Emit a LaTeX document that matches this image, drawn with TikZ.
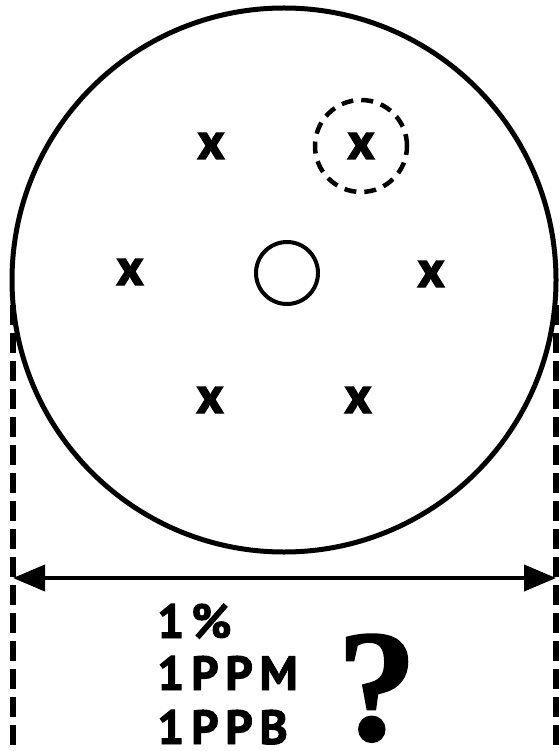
\documentclass[tikz,border=0pt]{standalone}
\usepackage{fontspec}
\setsansfont{PT Sans}
\newfontfamily\qmarkfont{Liberation Serif}
\usetikzlibrary{arrows.meta,positioning}
\tikzset{
  xmark/.style={font=\sffamily\bfseries\fontsize{52}{52}\selectfont\addfontfeature{FakeBold=2.5}, inner sep=0pt},
  conclabel/.style={font=\sffamily\bfseries\fontsize{48}{48}\selectfont\addfontfeature{LetterSpace=14,FakeBold=2}, inner sep=0pt, anchor=base west},
  sideline/.style={line width=6pt, dash pattern=on 20pt off 8pt}
}

\begin{document}
\begin{tikzpicture}[x=1pt, y=-1pt, >={Triangle[length=32pt,width=26pt]}]
  \useasboundingbox (0,0) rectangle (559,751);
  % sample disc with centre hole
  \node[circle, draw, line width=5pt, inner sep=0pt, minimum size=544pt] (disc) at (284,280) {};
  \node[circle, draw, line width=4pt, inner sep=0pt, minimum size=62pt] (hole) at (287,273) {};
  \node[circle, draw, line width=4.5pt, dash pattern=on 12pt off 8pt, inner sep=0pt, minimum size=92pt] (spot) at (361,146) {};
  % analysis points
  \node[xmark] (p1) at (211,146) {x};
  \node[xmark] (p2) at (361,146) {x};
  \node[xmark] (p3) at (130,272) {x};
  \node[xmark] (p4) at (431,274) {x};
  \node[xmark] (p5) at (210,400) {x};
  \node[xmark] (p6) at (358,400) {x};
  % width of the disc
  \coordinate (ltop) at (13,305);
  \coordinate (lbot) at (13,751);
  \coordinate (rtop) at (556,305);
  \coordinate (rbot) at (556,751);
  \draw[sideline] (ltop) -- (lbot);
  \draw[sideline] (rtop) -- (rbot);
  \coordinate (aleft) at (13,578);
  \coordinate (aright) at (556,578);
  \draw[<->, line width=4pt] (aleft) -- (aright);
  % detection limits
  \node[conclabel] (pct) at (157,638) {1\%};
  \node[conclabel] (ppm) at (157,690) {1PPM};
  \node[conclabel] (ppb) at (157,744) {1PPB};
  \node[font=\qmarkfont\bfseries\fontsize{160}{160}\selectfont\addfontfeature{FakeBold=1}, inner sep=0pt, anchor=base] (query) at (377,740) {?};
\end{tikzpicture}
\end{document}
